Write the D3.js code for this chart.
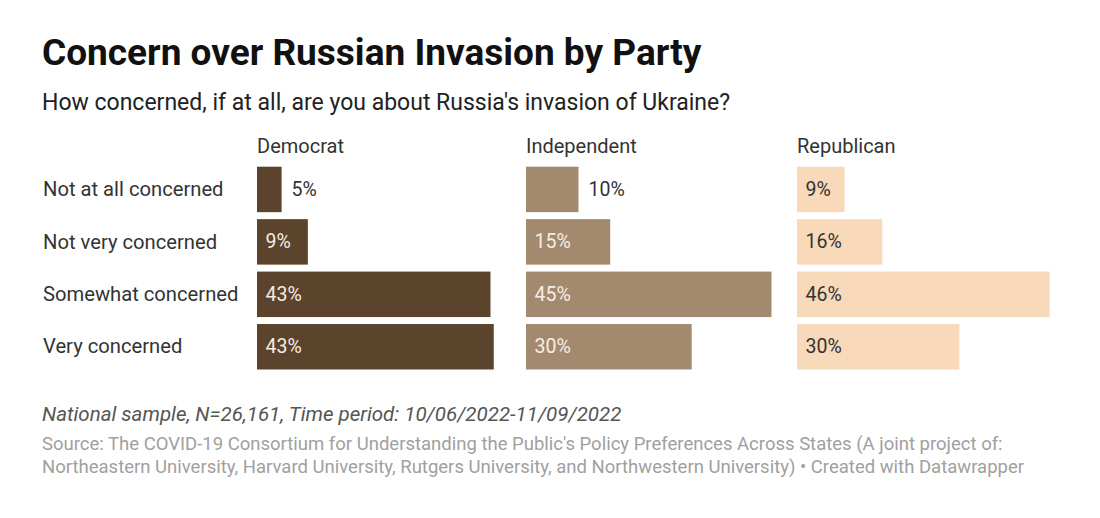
<!DOCTYPE html>
<html>
<head>
<meta charset="utf-8">
<script src="https://cdn.jsdelivr.net/npm/d3@7"></script>
<style>
  body { margin: 0; background: #fff; }
  svg { display: block; font-family: Roboto, "Noto Sans", sans-serif; }
</style>
</head>
<body>
<svg id="chart" width="1100" height="518"></svg>
<script>
const categories = ["Not at all concerned", "Not very concerned", "Somewhat concerned", "Very concerned"];
const parties = ["Democrat", "Independent", "Republican"];
const democrat = [4.5, 9.3, 42.7, 43.3];
const independent = [9.6, 15.4, 44.9, 30.3];
const republican = [8.7, 15.6, 46.2, 29.7];
const partyColors = ["#5b432c", "#a38a6e", "#f8d9ba"];
const labelInsideColors = ["#f3ece4", "#f5eee6", "#333333"];

const title = "Concern over Russian Invasion by Party";
const subtitle = "How concerned, if at all, are you about Russia's invasion of Ukraine?";
const note = "National sample, N=26,161, Time period: 10/06/2022-11/09/2022";
const source1 = "Source: The COVID-19 Consortium for Understanding the Public's Policy Preferences Across States (A joint project of:";
const source2 = "Northeastern University, Harvard University, Rutgers University, and Northwestern University) • Created with Datawrapper";

const series = [democrat, independent, republican];
const svg = d3.select("#chart");

svg.append("text").attr("x", 42).attr("y", 65)
  .attr("font-size", 37).attr("font-weight", 700).attr("fill", "#111")
  .text(title);
svg.append("text").attr("x", 42).attr("y", 110)
  .attr("font-size", 23).attr("fill", "#222")
  .text(subtitle);

const panelX = d3.scaleBand().domain(parties).range([257, 1067]).paddingInner(0);
const maxVal = d3.max(series.flat());
const x = d3.scaleLinear().domain([0, maxVal]).range([0, 252.6]);
const y = d3.scaleBand().domain(categories).range([166.7, 369.5]).paddingInner(0.133).paddingOuter(0);

// row labels
svg.append("g").selectAll("text").data(categories).join("text")
  .attr("x", 43)
  .attr("y", d => y(d) + y.bandwidth() / 2)
  .attr("dy", "0.33em")
  .attr("font-size", 20.2).attr("fill", "#333")
  .text(d => d);

parties.forEach((p, i) => {
  const g = svg.append("g").attr("transform", `translate(${panelX(p) - (i === 1 ? 1 : 0)},0)`);
  g.append("text").attr("x", 0).attr("y", 153)
    .attr("font-size", 20).attr("fill", "#333").text(p);
  const rows = categories.map((c, j) => ({ c, v: series[i][j] }));
  g.selectAll("rect").data(rows).join("rect")
    .attr("x", 0)
    .attr("y", d => y(d.c))
    .attr("width", d => x(d.v))
    .attr("height", y.bandwidth())
    .attr("fill", partyColors[i]);
  g.selectAll("text.val").data(rows).join("text")
    .attr("class", "val")
    .attr("y", d => y(d.c) + y.bandwidth() / 2)
    .attr("dy", "0.33em")
    .attr("font-size", 19.5)
    .text(d => Math.round(d.v) + "%")
    .each(function(d) {
      const w = this.getComputedTextLength();
      const inside = w + 20 <= x(d.v);
      d3.select(this)
        .attr("x", inside ? 8.5 : x(d.v) + 10)
        .attr("fill", inside ? labelInsideColors[i] : "#333");
    });
});

svg.append("text").attr("x", 42).attr("y", 421)
  .attr("font-size", 20.5).attr("font-style", "italic").attr("fill", "#555")
  .text(note);
svg.append("text").attr("x", 42).attr("y", 450)
  .attr("font-size", 18.5).attr("fill", "#a0a0a0").text(source1);
svg.append("text").attr("x", 42).attr("y", 473)
  .attr("font-size", 18.5).attr("fill", "#a0a0a0").text(source2);
</script>
</body>
</html>
